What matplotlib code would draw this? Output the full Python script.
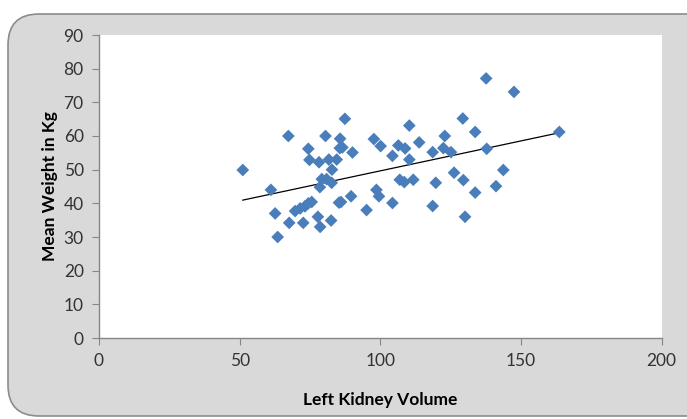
import numpy as np
import matplotlib
matplotlib.use("Agg")
import matplotlib.pyplot as plt
from matplotlib.patches import FancyBboxPatch

kidney_volume = [51.1, 61.1, 62.6, 63.5, 67.3, 67.6, 69.7, 71.5, 72.6, 73.2,
                 74.4, 75.6, 74.4, 74.8, 78.2, 77.8, 78.6, 78.5, 79.2, 80.5,
                 80.9, 82.5, 82.7, 81.7, 82.8, 84.5, 85.7, 85.6, 86.5, 87.4,
                 85.3, 86.0, 89.6, 90.1, 95.1, 97.7, 100.1, 98.6, 99.5, 104.3,
                 104.3, 106.4, 108.8, 106.9, 108.5, 111.7, 110.3, 110.3, 113.8, 118.6,
                 122.9, 122.4, 125.1, 119.7, 118.6, 126.2, 129.5, 130.1, 129.3, 133.7,
                 133.7, 137.6, 137.8, 141.1, 143.7, 147.5, 163.6]
mean_weight = [49.9, 44.0, 37.0, 30.0, 60.0, 34.2, 37.7, 38.5, 34.2, 39.1,
               40.0, 40.4, 56.2, 52.9, 52.2, 36.0, 33.0, 44.8, 47.2, 60.0,
               47.2, 34.9, 46.1, 53.0, 50.0, 53.0, 59.2, 56.4, 56.6, 65.1,
               40.2, 40.4, 42.1, 55.1, 38.0, 59.1, 57.0, 44.0, 42.1, 54.1,
               40.1, 57.2, 56.3, 47.0, 46.3, 47.0, 63.1, 53.0, 58.1, 55.2,
               60.0, 56.4, 55.2, 46.1, 39.2, 49.1, 46.9, 36.0, 65.2, 61.2,
               43.2, 77.1, 56.2, 45.1, 49.9, 73.1, 61.2]

x_ticks = [0, 50, 100, 150, 200]
y_ticks = [0, 10, 20, 30, 40, 50, 60, 70, 80, 90]

plt.rcParams['font.family'] = ['Lato', 'DejaVu Sans']

fig = plt.figure(figsize=(6.87, 4.19), dpi=100)
fig.patch.set_facecolor('white')

W, H = 687, 419
bg = FancyBboxPatch((8 / W, (H - 416) / H), (720 - 8) / W, (416 - 14) / H,
                    boxstyle="round,pad=0,rounding_size=0.045",
                    transform=fig.transFigure, facecolor='#d9d9d9',
                    edgecolor='#8c8c8c', linewidth=1.2, mutation_aspect=W / H,
                    zorder=-10)
fig.patches.append(bg)

ax = fig.add_axes([99 / W, 1 - 338 / H, (661.7 - 99) / W, (338 - 35) / H])
ax.set_zorder(1)
ax.set_facecolor('white')

x = np.array(kidney_volume)
y = np.array(mean_weight)
ax.scatter(x, y, marker='D', s=42, color='#4a7ebb', edgecolors='none', zorder=3)

m, b = np.polyfit(x, y, 1)
xl = np.array([x.min(), x.max()])
ax.plot(xl, m * xl + b, color='black', linewidth=0.9, zorder=2)

ax.set_xlim(0, 200)
ax.set_ylim(0, 90)
ax.set_xticks(x_ticks)
ax.set_yticks(y_ticks)

for s in ['top', 'right']:
    ax.spines[s].set_visible(False)
for s in ['left', 'bottom']:
    ax.spines[s].set_color('#868686')
    ax.spines[s].set_linewidth(1.0)

ax.tick_params(axis='both', direction='out', length=5, color='#868686',
               labelsize=12.5, labelcolor='#333333')
ax.tick_params(axis='x', pad=6)
ax.tick_params(axis='y', pad=6)

ax.set_xlabel('Left Kidney Volume', fontsize=12.5, fontweight='bold', labelpad=16)
ax.set_ylabel('Mean Weight in Kg', fontsize=12.5, fontweight='bold', labelpad=4)

fig.savefig('out.png', dpi=100, facecolor=fig.get_facecolor())
